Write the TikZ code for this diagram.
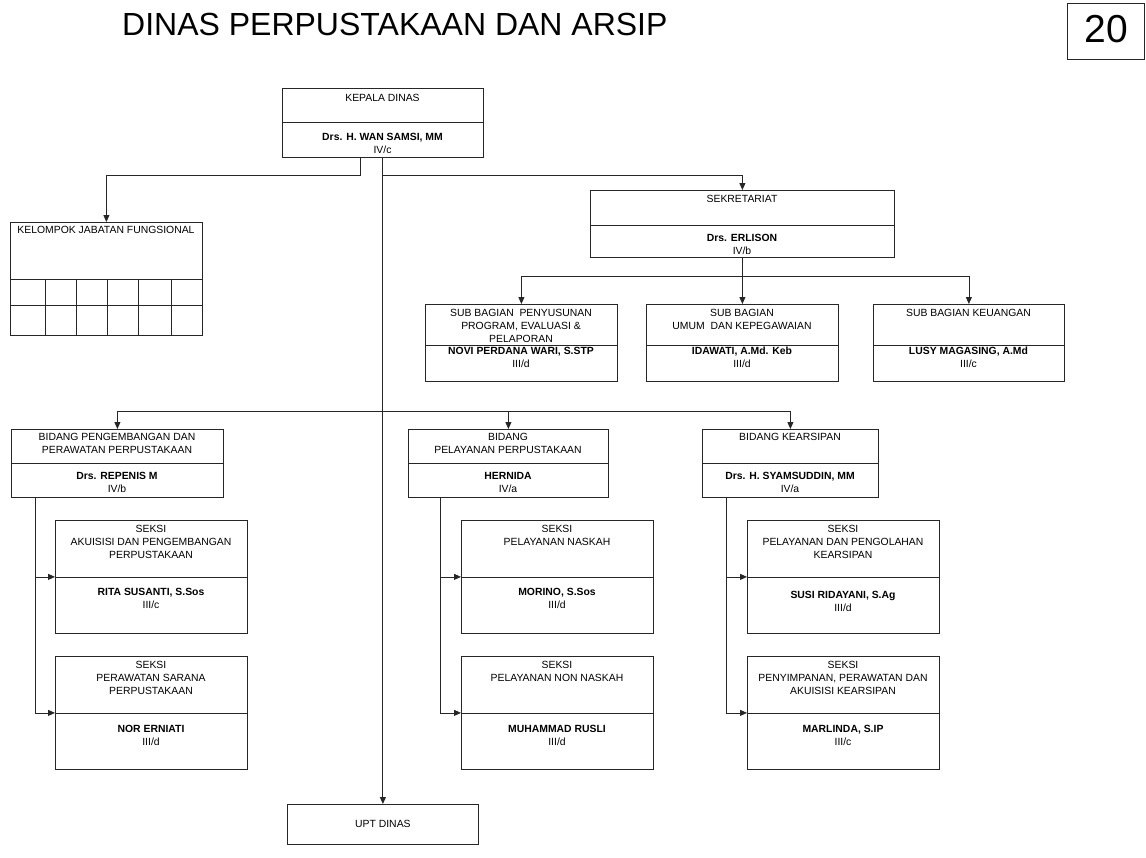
\documentclass[tikz,border=0pt]{standalone}
\usepackage{fontspec}
\setmainfont{Liberation Sans}
\usetikzlibrary{arrows.meta}
\begin{document}
\begin{tikzpicture}[x=1pt,y=-1pt,
  box/.style={draw=black!85, line width=0.8pt, rectangle, inner sep=0pt, anchor=north west},
  txt/.style={inner sep=0pt, font=\fontsize{10.4}{12.6}\selectfont, align=center},
  arr/.style={draw=black!85, line width=0.8pt, -{Triangle[length=7pt,width=6pt]}},
  ln/.style={draw=black!85, line width=0.8pt}]
\useasboundingbox (0,0) rectangle (1146,857);
% title
\node[anchor=base west, inner sep=0pt, font=\fontsize{32}{38}\selectfont] (title) at (122,35.3) {DINAS PERPUSTAKAAN DAN ARSIP};
\node[box, minimum width=77pt, minimum height=56pt] (pg) at (1067,3) {};
\node[inner sep=0pt, font=\fontsize{39}{44}\selectfont] (pgt) at (1106,28.8) {20};
% boxes
\node[box, minimum width=201pt, minimum height=69pt] (kd) at (282,88) {};
\node[box, minimum width=192pt, minimum height=113pt] (kel) at (10,222) {};
\node[box, minimum width=304pt, minimum height=67pt] (sek) at (590,190) {};
\node[box, minimum width=192pt, minimum height=77pt] (sb1) at (425,304) {};
\node[box, minimum width=192pt, minimum height=77pt] (sb2) at (646,304) {};
\node[box, minimum width=191pt, minimum height=77pt] (sb3) at (873,304) {};
\node[box, minimum width=212pt, minimum height=68pt] (bd1) at (11,429) {};
\node[box, minimum width=200pt, minimum height=68pt] (bd2) at (408,429) {};
\node[box, minimum width=176pt, minimum height=68pt] (bd3) at (702,429) {};
\node[box, minimum width=192pt, minimum height=113pt] (s11) at (55,520) {};
\node[box, minimum width=192pt, minimum height=113pt] (s12) at (55,656) {};
\node[box, minimum width=192pt, minimum height=113pt] (s21) at (461,520) {};
\node[box, minimum width=192pt, minimum height=113pt] (s22) at (461,656) {};
\node[box, minimum width=192pt, minimum height=113pt] (s31) at (747,520) {};
\node[box, minimum width=192pt, minimum height=113pt] (s32) at (747,656) {};
\node[box, minimum width=191pt, minimum height=40pt] (upt) at (287,804) {};
% dividers
\draw[ln] (kd.west |- 0,122) -- (kd.east |- 0,122);
\draw[ln] (sek.west |- 0,225) -- (sek.east |- 0,225);
\foreach \b in {sb1,sb2,sb3} \draw[ln] (\b.west |- 0,345) -- (\b.east |- 0,345);
\foreach \b in {bd1,bd2,bd3} \draw[ln] (\b.west |- 0,463) -- (\b.east |- 0,463);
\foreach \b in {s11,s21,s31} \draw[ln] (\b.west |- 0,577) -- (\b.east |- 0,577);
\foreach \b in {s12,s22,s32} \draw[ln] (\b.west |- 0,713) -- (\b.east |- 0,713);
% kelompok grid
\draw[ln] (kel.west |- 0,279) -- (kel.east |- 0,279);
\draw[ln] (kel.west |- 0,305) -- (kel.east |- 0,305);
\foreach \x in {45,76,107,138,171} \draw[ln] (\x,279) -- (\x,335);
% texts
\node[txt] (kd-t) at (382.5,98) {KEPALA DINAS};
\node[txt] (kd-n) at (382.5,143.5) {\textbf{Drs. H. WAN SAMSI, MM}\\IV/c};
\node[txt] (kel-t) at (106,230) {KELOMPOK JABATAN FUNGSIONAL};
\node[txt] (sek-t) at (742,199) {SEKRETARIAT};
\node[txt] (sek-n) at (742,244.5) {\textbf{Drs. ERLISON}\\IV/b};
\node[txt] (sb1-t) at (521,326) {SUB BAGIAN\ \ PENYUSUNAN\\PROGRAM, EVALUASI \&\\PELAPORAN};
\node[txt] (sb1-n) at (521,357.5) {\textbf{NOVI PERDANA WARI, S.STP}\\III/d};
\node[txt] (sb2-t) at (742,319.5) {SUB BAGIAN\\UMUM\ \ DAN KEPEGAWAIAN};
\node[txt] (sb2-n) at (742,357.5) {\textbf{IDAWATI, A.Md. Keb}\\III/d};
\node[txt] (sb3-t) at (968.5,313) {SUB BAGIAN KEUANGAN};
\node[txt] (sb3-n) at (968.5,357.5) {\textbf{LUSY MAGASING, A.Md}\\III/c};
\node[txt] (bd1-t) at (117,443.5) {BIDANG PENGEMBANGAN DAN\\PERAWATAN PERPUSTAKAAN};
\node[txt] (bd1-n) at (117,482.5) {\textbf{Drs. REPENIS M}\\IV/b};
\node[txt] (bd2-t) at (508,443.5) {BIDANG\\PELAYANAN PERPUSTAKAAN};
\node[txt] (bd2-n) at (508,482.5) {\textbf{HERNIDA}\\IV/a};
\node[txt] (bd3-t) at (790,437) {BIDANG KEARSIPAN};
\node[txt] (bd3-n) at (790,482.5) {\textbf{Drs. H. SYAMSUDDIN, MM}\\IV/a};
\node[txt] (s11-t) at (151,542) {SEKSI\\AKUISISI DAN PENGEMBANGAN\\PERPUSTAKAAN};
\node[txt] (s11-n) at (151,598.5) {\textbf{RITA SUSANTI, S.Sos}\\III/c};
\node[txt] (s12-t) at (151,678) {SEKSI\\PERAWATAN SARANA\\PERPUSTAKAAN};
\node[txt] (s12-n) at (151,735.5) {\textbf{NOR ERNIATI}\\III/d};
\node[txt] (s21-t) at (557,535.5) {SEKSI\\PELAYANAN NASKAH};
\node[txt] (s21-n) at (557,598.5) {\textbf{MORINO, S.Sos}\\III/d};
\node[txt] (s22-t) at (557,671.5) {SEKSI\\PELAYANAN NON NASKAH};
\node[txt] (s22-n) at (557,735.5) {\textbf{MUHAMMAD RUSLI}\\III/d};
\node[txt] (s31-t) at (843,542) {SEKSI\\PELAYANAN DAN PENGOLAHAN\\KEARSIPAN};
\node[txt] (s31-n) at (843,601.5) {\textbf{SUSI RIDAYANI, S.Ag}\\III/d};
\node[txt] (s32-t) at (843,678) {SEKSI\\PENYIMPANAN, PERAWATAN DAN\\AKUISISI KEARSIPAN};
\node[txt] (s32-n) at (843,735.5) {\textbf{MARLINDA, S.IP}\\III/c};
\node[txt] (upt-t) at (upt.center) {UPT DINAS};
% connectors
\coordinate (kdl) at (360,157);
\coordinate (j1) at (382.5,175);
\coordinate (j2) at (742,276);
\coordinate (j3) at (382.5,411);
\draw[arr] (kdl) -- ++(0,18) -| (kel.north);
\draw[arr, line width=1.1pt] (kd.south) -- (upt.north);
\draw[arr] (j1) -| (sek.north);
\draw[ln] (sek.south) -- (sek.south |- j2);
\draw[arr] (sek.south |- j2) -| (sb1.north);
\draw[arr] (sek.south |- j2) -- (sb2.north);
\draw[arr] (sek.south |- j2) -| (sb3.north);
\draw[arr] (j3) -| (bd1.north);
\draw[arr] (j3) -| (bd2.north);
\draw[arr] (j3) -| (bd3.north);
\draw[arr] ([xshift=24pt]bd1.south west) |- (s11.west);
\draw[arr] ([xshift=24pt]bd1.south west) |- (s12.west);
\draw[arr] ([xshift=32pt]bd2.south west) |- (s21.west);
\draw[arr] ([xshift=32pt]bd2.south west) |- (s22.west);
\draw[arr] ([xshift=24pt]bd3.south west) |- (s31.west);
\draw[arr] ([xshift=24pt]bd3.south west) |- (s32.west);
\end{tikzpicture}
\end{document}
